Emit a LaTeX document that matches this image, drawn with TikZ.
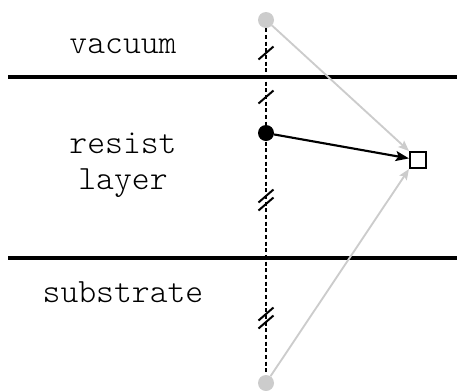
\documentclass[tikz,border=0pt]{standalone}
\usepackage{tikz}
\usetikzlibrary{arrows.meta, positioning}
\definecolor{ghost}{RGB}{204,204,204}

\begin{document}
\begin{tikzpicture}[x=0.75pt, y=-0.75pt,
  region/.style={font=\ttfamily\fontseries{l}\fontsize{25.5}{27}\selectfont, align=center, inner sep=0pt},
  boundary/.style={line width=2.4pt},
  dot/.style={circle, fill, inner sep=0pt, minimum size=12pt},
  ray/.style={-{Stealth[length=8pt, width=6.5pt, inset=1.5pt]}, line width=1.4pt},
  tick/.style={line width=1.5pt}
]
  \useasboundingbox (0,0) rectangle (457,390);

  % layers
  \draw[boundary] (8,77) -- (457,77);
  \draw[boundary] (8,258) -- (457,258);
  \node[region, anchor=base] (vac) at (123,53) {vacuum};
  \node[region] (res) at (123,165) {resist\\layer};
  \node[region, anchor=base] (sub) at (123,302) {substrate};

  % points
  \node[dot, ghost] (top) at (266,20) {};
  \node[dot, ghost] (bot) at (266,383) {};
  \node[dot] (src) at (266,133) {};
  \node[draw, line width=1.5pt, minimum size=12pt, inner sep=0pt] (obs) at (418,160) {};

  \draw[line width=1.2pt, dash pattern=on 3pt off 2pt] (top) -- (bot);
  \foreach \y in {53,97}
    \draw[tick] (258.5,\y+6.5) -- ++(15,-13);
  \foreach \y in {200,318} {
    \draw[tick] (258.5,\y+2.5) -- ++(15,-13);
    \draw[tick] (258.5,\y+10.5) -- ++(15,-13);
  }

  % rays
  \draw[ray, ghost] (top) -- (obs.north west);
  \draw[ray, ghost] (bot) -- (obs.south west);
  \draw[ray, -{Stealth[length=10pt, width=7.5pt, inset=2pt]}, line width=1.6pt] (src) -- (obs);
\end{tikzpicture}
\end{document}
